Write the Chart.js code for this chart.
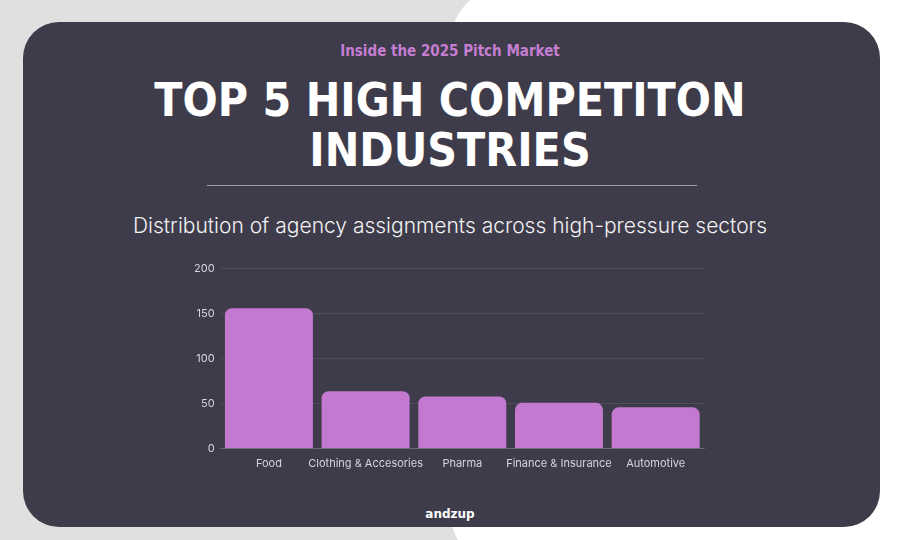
<!DOCTYPE html>
<html>
<head>
<meta charset="utf-8">
<script src="https://cdn.jsdelivr.net/npm/chart.js@4/dist/chart.umd.min.js"></script>
<style>
    html, body { margin: 0; padding: 0; }
    body {
        width: 900px;
        height: 540px;
        background: #e0e0e0;
        position: relative;
        overflow: hidden;
        font-family: Inter, 'Noto Sans', sans-serif;
    }
    .blob {
        position: absolute;
        left: 450px;
        top: -15px;
        width: 520px;
        height: 585px;
        background: #ffffff;
        border-radius: 60px;
    }
    .card {
        position: absolute;
        left: 23px;
        top: 22px;
        width: 857px;
        height: 505px;
        background: #3e3c4b;
        border-radius: 36px;
    }
    .kicker {
        position: absolute;
        top: 42px;
        width: 100%;
        text-align: center;
        color: #c57ed2;
        font-family: 'DejaVu Sans Condensed', 'DejaVu Sans', sans-serif;
        font-weight: bold;
        font-size: 15px;
    }
    .title {
        position: absolute;
        top: 75px;
        width: 100%;
        text-align: center;
        color: #ffffff;
        font-family: 'DejaVu Sans Condensed', 'DejaVu Sans', sans-serif;
        font-weight: bold;
        font-size: 46px;
        line-height: 50px;
    }
    .rule {
        position: absolute;
        left: 207px;
        top: 185px;
        width: 490px;
        height: 1px;
        background: #9d9ba8;
    }
    .subtitle {
        position: absolute;
        top: 213px;
        width: 100%;
        text-align: center;
        color: #f2f2f2;
        font-family: Inter, sans-serif;
        font-weight: 300;
        font-size: 21px;
    }
    .chart-box {
        position: absolute;
        left: 188px;
        top: 256px;
        width: 520px;
        height: 214px;
    }
    .brand {
        position: absolute;
        top: 507px;
        width: 100%;
        text-align: center;
        color: #ffffff;
        font-family: 'DejaVu Sans', sans-serif;
        font-weight: bold;
        font-size: 12px;
    }
</style>
</head>
<body>
<div class="blob"></div>
<div class="card"></div>
<div class="kicker">Inside the 2025 Pitch Market</div>
<div class="title">TOP 5 HIGH COMPETITON<br>INDUSTRIES</div>
<div class="rule"></div>
<div class="subtitle">Distribution of agency assignments across high-pressure sectors</div>
<div class="chart-box"><canvas id="bars"></canvas></div>
<div class="brand">andzup</div>

<script>
// industries and their assignment counts
const industries = ['Food', 'Clothing & Accesories', 'Pharma', 'Finance & Insurance', 'Automotive'];
const assignments = [156, 64, 58, 51, 46];
const yTicks = [0, 50, 100, 150, 200];

const barColor = '#c279cf';
const tickColor = '#d6d5dc';
const gridColor = 'rgba(255,255,255,0.09)';

document.addEventListener('DOMContentLoaded', () => {
    const ctx = document.getElementById('bars').getContext('2d');

    new Chart(ctx, {
        type: 'bar',
        data: {
            labels: industries,
            datasets: [{
                label: 'Assignments',
                data: assignments,
                backgroundColor: barColor,
                borderWidth: 0,
                borderRadius: { topLeft: 7, topRight: 7 },
                borderSkipped: 'bottom',
                barPercentage: 0.91,
                categoryPercentage: 1
            }]
        },
        options: {
            responsive: true,
            maintainAspectRatio: false,
            animation: false,
            layout: { padding: { top: 2, right: 4 } },
            plugins: {
                legend: { display: false },
                tooltip: { enabled: false }
            },
            scales: {
                y: {
                    min: 0,
                    max: 200,
                    afterBuildTicks: (axis) => {
                        axis.ticks = yTicks.map(v => ({ value: v }));
                    },
                    border: { display: false },
                    grid: { color: gridColor, drawTicks: false },
                    ticks: {
                        color: tickColor,
                        padding: 6,
                        font: { family: 'Inter', size: 11 }
                    }
                },
                x: {
                    border: { display: true, color: 'rgba(255,255,255,0.15)' },
                    grid: { display: false },
                    ticks: {
                        color: tickColor,
                        padding: 0,
                        maxRotation: 0,
                        autoSkip: false,
                        font: { family: 'Inter', size: 11 }
                    }
                }
            }
        }
    });
});
</script>
</body>
</html>
